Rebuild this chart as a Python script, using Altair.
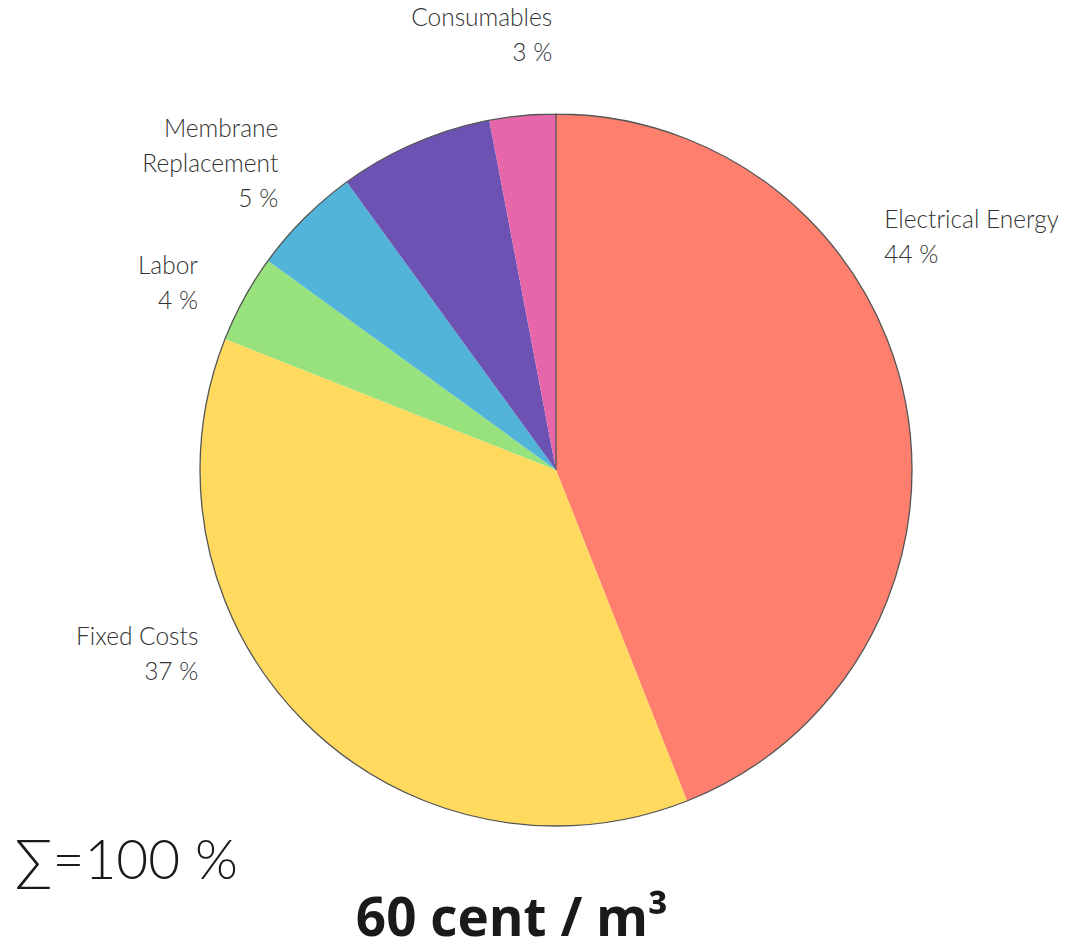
import altair as alt
import pandas as pd

categories = ["Electrical Energy", "Fixed Costs", "Labor", "Membrane Replacement", "Other", "Consumables"]
labels = ["Electrical Energy", "Fixed Costs", "Labor", "Membrane\nReplacement", "", "Consumables"]
values = [44, 37, 4, 5, 7, 3]
colors = ["#FF7F6F", "#FFDA5F", "#98E27E", "#51B4D8", "#6B52B3", "#E667A9"]
total_text = ["\u2211=100 %"]
cost_text = ["60 cent / m\u00b3"]

df = pd.DataFrame({
    "category": categories,
    "label": labels,
    "value": values,
    "order": list(range(len(categories))),
})

CX, CY, R = 548, 462, 356
FONT = "Lato"

base = alt.Chart(df)
theta_scale = alt.Scale(domain=[0, 100], range=[0, 6.283185307])

pie = base.mark_arc(radius=R, stroke=None).encode(
    x=alt.value(CX), y=alt.value(CY),
    theta=alt.Theta("value:Q", stack=True, scale=theta_scale),
    order=alt.Order("order:Q"),
    color=alt.Color("category:N", scale=alt.Scale(domain=categories, range=colors), legend=None),
)

outline = alt.Chart(pd.DataFrame({"total": [sum(values)]})).mark_arc(
    radius=R, fill=None, filled=False, stroke="#555555", strokeWidth=1.3
).encode(
    x=alt.value(CX), y=alt.value(CY),
    theta=alt.Theta("total:Q", stack=True, scale=theta_scale),
)

label_base = base.transform_window(
    cum="sum(value)", sort=[alt.SortField("order")], frame=[None, 0]
).transform_calculate(
    mid="datum.cum - datum.value / 2",
    txt="datum.label + '\\n' + datum.value + ' %'",
)

# (category, align, dx, dy)
label_specs = [
    ("Electrical Energy", "left", -45, -178),
    ("Fixed Costs", "right", -89, -101),
    ("Labor", "right", -25, -20),
    ("Membrane Replacement", "right", -9, -71),
    ("Consumables", "right", 32, -73),
]

label_layers = []
for cat, align, dx, dy in label_specs:
    label_layers.append(
        label_base.transform_filter(alt.datum.category == cat).mark_text(
            radius=380, align=align, baseline="middle", dx=dx, dy=dy,
            lineBreak="\n", lineHeight=35, font=FONT, fontWeight=300,
            fontSize=24.5, color="#333333",
        ).encode(
            x=alt.value(CX), y=alt.value(CY),
            theta=alt.Theta("mid:Q", stack=None, scale=theta_scale),
            text="txt:N",
        )
    )

sum_txt = alt.Chart(pd.DataFrame({"t": total_text})).mark_text(
    align="left", baseline="middle", font=FONT, fontWeight=300, fontSize=55, color="#1a1a1a"
).encode(x=alt.value(7), y=alt.value(854), text="t:N")

cost_txt = alt.Chart(pd.DataFrame({"t": cost_text})).mark_text(
    align="center", baseline="alphabetic", font="Open Sans", fontWeight="bold", fontSize=53, color="#1a1a1a"
).encode(x=alt.value(504), y=alt.value(928), text="t:N")

chart = alt.layer(pie, outline, *label_layers, sum_txt, cost_txt).properties(
    width=1050, height=931, padding=0, autosize=alt.AutoSizeParams(type="none")
).configure_view(stroke=None)

chart.save("out.html", embed_options={"renderer": "svg", "actions": False})
